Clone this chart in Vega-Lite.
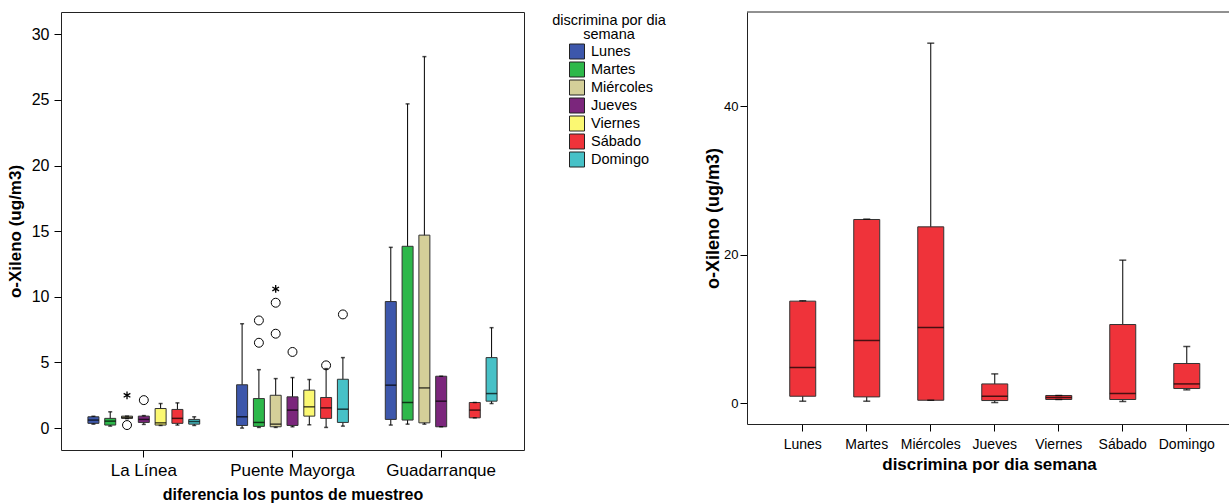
{
  "$schema": "https://vega.github.io/schema/vega-lite/v6.json",
  "padding": {"left": 5, "top": 11, "right": 0, "bottom": 0},
  "spacing": 179,
  "config": {
    "font": "Liberation Sans",
    "view": {"stroke": null},
    "axis": {"domainColor": "#000", "tickColor": "#000", "labelColor": "#000", "titleColor": "#000", "grid": false}
  },
  "datasets": {
    "left": [
      {"site": "La Línea", "day": "Lunes", "lo": 0.3, "q1": 0.36, "med": 0.61, "q3": 0.86, "hi": 0.9},
      {"site": "La Línea", "day": "Martes", "lo": 0.15, "q1": 0.23, "med": 0.53, "q3": 0.74, "hi": 1.24},
      {"site": "La Línea", "day": "Miércoles", "lo": 0.72, "q1": 0.74, "med": 0.8, "q3": 0.91, "hi": 0.91},
      {"site": "La Línea", "day": "Jueves", "lo": 0.28, "q1": 0.43, "med": 0.66, "q3": 0.91, "hi": 0.95},
      {"site": "La Línea", "day": "Viernes", "lo": 0.2, "q1": 0.23, "med": 0.4, "q3": 1.49, "hi": 1.87},
      {"site": "La Línea", "day": "Sábado", "lo": 0.23, "q1": 0.36, "med": 0.74, "q3": 1.42, "hi": 1.92},
      {"site": "La Línea", "day": "Domingo", "lo": 0.2, "q1": 0.3, "med": 0.5, "q3": 0.66, "hi": 0.86},
      {"site": "Puente Mayorga", "day": "Lunes", "lo": 0.0, "q1": 0.2, "med": 0.86, "q3": 3.3, "hi": 7.95},
      {"site": "Puente Mayorga", "day": "Martes", "lo": 0.05, "q1": 0.13, "med": 0.43, "q3": 2.25, "hi": 4.45},
      {"site": "Puente Mayorga", "day": "Miércoles", "lo": 0.05, "q1": 0.1, "med": 0.3, "q3": 2.5, "hi": 3.77},
      {"site": "Puente Mayorga", "day": "Jueves", "lo": 0.1, "q1": 0.2, "med": 1.37, "q3": 2.38, "hi": 3.85},
      {"site": "Puente Mayorga", "day": "Viernes", "lo": 0.25, "q1": 0.91, "med": 1.62, "q3": 2.89, "hi": 3.7},
      {"site": "Puente Mayorga", "day": "Sábado", "lo": 0.05, "q1": 0.74, "med": 1.54, "q3": 2.33, "hi": 4.53},
      {"site": "Puente Mayorga", "day": "Domingo", "lo": 0.15, "q1": 0.43, "med": 1.44, "q3": 3.72, "hi": 5.37},
      {"site": "Guadarranque", "day": "Lunes", "lo": 0.23, "q1": 0.66, "med": 3.27, "q3": 9.64, "hi": 13.77},
      {"site": "Guadarranque", "day": "Martes", "lo": 0.3, "q1": 0.61, "med": 1.95, "q3": 13.85, "hi": 24.7},
      {"site": "Guadarranque", "day": "Miércoles", "lo": 0.3, "q1": 0.4, "med": 3.06, "q3": 14.7, "hi": 28.3},
      {"site": "Guadarranque", "day": "Jueves", "lo": 0.1, "q1": 0.1, "med": 2.05, "q3": 3.95, "hi": 3.95},
      {"site": "Guadarranque", "day": "Sábado", "lo": 0.78, "q1": 0.78, "med": 1.37, "q3": 1.95, "hi": 1.95},
      {"site": "Guadarranque", "day": "Domingo", "lo": 1.87, "q1": 2.05, "med": 2.63, "q3": 5.37, "hi": 7.65}
    ],
    "leftOut": [
      {"site": "La Línea", "day": "Miércoles", "v": 2.5, "kind": "star"},
      {"site": "La Línea", "day": "Miércoles", "v": 0.23, "kind": "circle"},
      {"site": "La Línea", "day": "Jueves", "v": 2.13, "kind": "circle"},
      {"site": "Puente Mayorga", "day": "Martes", "v": 6.5, "kind": "circle"},
      {"site": "Puente Mayorga", "day": "Martes", "v": 8.2, "kind": "circle"},
      {"site": "Puente Mayorga", "day": "Miércoles", "v": 7.19, "kind": "circle"},
      {"site": "Puente Mayorga", "day": "Miércoles", "v": 9.55, "kind": "circle"},
      {"site": "Puente Mayorga", "day": "Miércoles", "v": 10.6, "kind": "star"},
      {"site": "Puente Mayorga", "day": "Jueves", "v": 5.8, "kind": "circle"},
      {"site": "Puente Mayorga", "day": "Sábado", "v": 4.78, "kind": "circle"},
      {"site": "Puente Mayorga", "day": "Domingo", "v": 8.66, "kind": "circle"}
    ],
    "right": [
      {"day": "Lunes", "lo": 0.27, "q1": 0.94, "med": 4.8, "q3": 13.75, "hi": 13.8},
      {"day": "Martes", "lo": 0.27, "q1": 0.85, "med": 8.45, "q3": 24.75, "hi": 24.8},
      {"day": "Miércoles", "lo": 0.4, "q1": 0.4, "med": 10.2, "q3": 23.76, "hi": 48.5},
      {"day": "Jueves", "lo": 0.09, "q1": 0.36, "med": 0.94, "q3": 2.6, "hi": 3.95},
      {"day": "Viernes", "lo": 0.5, "q1": 0.5, "med": 0.77, "q3": 1.04, "hi": 1.04},
      {"day": "Sábado", "lo": 0.23, "q1": 0.5, "med": 1.31, "q3": 10.6, "hi": 19.27},
      {"day": "Domingo", "lo": 1.8, "q1": 1.98, "med": 2.6, "q3": 5.35, "hi": 7.64}
    ]
  },
  "hconcat": [
    {
      "width": 463,
      "height": 438,
      "view": {"stroke": "#222", "strokeWidth": 1},
      "data": {"name": "left"},
      "encoding": {
        "x": {
          "field": "site", "type": "nominal",
          "sort": ["La Línea", "Puente Mayorga", "Guadarranque"],
          "scale": {"paddingInner": 0, "paddingOuter": 0.057},
          "title": "diferencia los puntos de muestreo",
          "axis": {"labelAngle": 0, "domain": false, "tickSize": 7, "labelPadding": 5, "labelFontSize": 17, "titleFontSize": 16, "titleFontWeight": "bold", "titlePadding": 8}
        },
        "xOffset": {
          "field": "day", "type": "nominal",
          "scale": {"domain": ["Lunes", "Martes", "Miércoles", "Jueves", "Viernes", "Sábado", "Domingo"], "paddingInner": 0, "paddingOuter": 0.925}
        }
      },
      "layer": [
        {
          "mark": {"type": "rule", "color": "#000", "strokeWidth": 1},
          "encoding": {
            "y": {
              "field": "lo", "type": "quantitative", "title": "o-Xileno (ug/m3)",
              "scale": {"domain": [-1.67, 31.7], "nice": false, "zero": false},
              "axis": {"values": [0, 5, 10, 15, 20, 25, 30], "domain": false, "tickSize": 7, "labelPadding": 5, "labelFontSize": 16, "titleFontSize": 17, "titleFontWeight": "bold", "titlePadding": 7}
            },
            "y2": {"field": "hi"}
          }
        },
        {
          "mark": {"type": "bar", "size": 11, "stroke": "#333", "strokeWidth": 1},
          "encoding": {
            "y": {"field": "q1", "type": "quantitative", "title": "o-Xileno (ug/m3)"},
            "y2": {"field": "q3"},
            "color": {
              "field": "day", "type": "nominal",
              "scale": {
                "domain": ["Lunes", "Martes", "Miércoles", "Jueves", "Viernes", "Sábado", "Domingo"],
                "range": ["#3D57AB", "#2DB84A", "#D4CF99", "#7B267C", "#FBF872", "#EF333A", "#47C1C7"]
              },
              "legend": {
                "orient": "none", "legendX": 491, "legendY": 2,
                "title": ["discrimina por dia", "semana"],
                "titleFontSize": 14.5, "titleFontWeight": "normal", "titleAnchor": "middle", "titleAlign": "center", "titleLineHeight": 14, "titlePadding": 1, "titleColor": "#000",
                "symbolType": "square", "symbolSize": 225, "symbolStrokeColor": "#222", "symbolStrokeWidth": 1, "symbolOffset": 5,
                "labelFontSize": 14.5, "labelOffset": 6, "labelColor": "#000", "rowPadding": -2.5, "labelLimit": 200
              }
            }
          }
        },
        {
          "mark": {"type": "tick", "size": 11, "thickness": 1.5, "color": "#000", "orient": "horizontal"},
          "encoding": {"y": {"field": "med", "type": "quantitative", "title": "o-Xileno (ug/m3)"}}
        },
        {
          "mark": {"type": "tick", "size": 4, "thickness": 1.5, "color": "#000", "orient": "horizontal"},
          "encoding": {"y": {"field": "lo", "type": "quantitative", "title": "o-Xileno (ug/m3)"}}
        },
        {
          "mark": {"type": "tick", "size": 4, "thickness": 1.5, "color": "#000", "orient": "horizontal"},
          "encoding": {"y": {"field": "hi", "type": "quantitative", "title": "o-Xileno (ug/m3)"}}
        },
        {
          "data": {"name": "leftOut"},
          "transform": [{"filter": "datum.kind == 'circle'"}],
          "mark": {"type": "point", "shape": "circle", "filled": false, "size": 80, "stroke": "#000", "strokeWidth": 1, "opacity": 1},
          "encoding": {"y": {"field": "v", "type": "quantitative", "title": "o-Xileno (ug/m3)"}}
        },
        {
          "data": {"name": "leftOut"},
          "transform": [{"filter": "datum.kind == 'star'"}],
          "mark": {"type": "point", "shape": "M0,-1L0,1M-0.866,-0.5L0.866,0.5M-0.866,0.5L0.866,-0.5", "filled": false, "size": 60, "stroke": "#000", "strokeWidth": 1.3, "opacity": 1},
          "encoding": {"y": {"field": "v", "type": "quantitative", "title": "o-Xileno (ug/m3)"}}
        }
      ]
    },
    {
      "width": 484,
      "height": 412,
      "data": {"name": "right"},
      "layer": [
        {
          "data": {"values": [{"top": 52.7}]},
          "mark": {"type": "rule", "color": "#222", "strokeWidth": 1},
          "encoding": {"y": {"field": "top", "type": "quantitative", "title": "o-Xileno (ug/m3)"}}
        },
        {
          "mark": {"type": "rule", "color": "#000", "strokeWidth": 1},
          "encoding": {
            "x": {
              "field": "day", "type": "nominal",
              "sort": ["Lunes", "Martes", "Miércoles", "Jueves", "Viernes", "Sábado", "Domingo"],
              "scale": {"domain": ["Lunes", "Martes", "Miércoles", "Jueves", "Viernes", "Sábado", "Domingo"], "paddingInner": 0, "paddingOuter": 0.281, "align": 0.66},
              "title": "discrimina por dia semana",
              "axis": {"labelAngle": 0, "domain": true, "domainColor": "#222", "tickSize": 7, "labelPadding": 6, "labelFontSize": 14, "titleFontSize": 17, "titleFontWeight": "bold", "titlePadding": 5}
            },
            "y": {
              "field": "lo", "type": "quantitative", "title": "o-Xileno (ug/m3)",
              "scale": {"domain": [-2.8, 52.7], "nice": false, "zero": false},
              "axis": {"values": [0, 20, 40], "domain": true, "domainColor": "#222", "tickSize": 7, "labelPadding": 2, "labelFontSize": 13, "titleFontSize": 18, "titleFontWeight": "bold", "titlePadding": 1}
            },
            "y2": {"field": "hi"}
          }
        },
        {
          "mark": {"type": "bar", "size": 26, "fill": "#EF333A", "stroke": "#333", "strokeWidth": 1},
          "encoding": {
            "x": {"field": "day", "type": "nominal", "sort": ["Lunes", "Martes", "Miércoles", "Jueves", "Viernes", "Sábado", "Domingo"]},
            "y": {"field": "q1", "type": "quantitative", "title": "o-Xileno (ug/m3)"},
            "y2": {"field": "q3"}
          }
        },
        {
          "mark": {"type": "tick", "size": 26, "thickness": 1.5, "color": "#000", "orient": "horizontal"},
          "encoding": {
            "x": {"field": "day", "type": "nominal", "sort": ["Lunes", "Martes", "Miércoles", "Jueves", "Viernes", "Sábado", "Domingo"]},
            "y": {"field": "med", "type": "quantitative", "title": "o-Xileno (ug/m3)"}
          }
        },
        {
          "mark": {"type": "tick", "size": 7, "thickness": 1.5, "color": "#000", "orient": "horizontal"},
          "encoding": {
            "x": {"field": "day", "type": "nominal", "sort": ["Lunes", "Martes", "Miércoles", "Jueves", "Viernes", "Sábado", "Domingo"]},
            "y": {"field": "lo", "type": "quantitative", "title": "o-Xileno (ug/m3)"}
          }
        },
        {
          "mark": {"type": "tick", "size": 7, "thickness": 1.5, "color": "#000", "orient": "horizontal"},
          "encoding": {
            "x": {"field": "day", "type": "nominal", "sort": ["Lunes", "Martes", "Miércoles", "Jueves", "Viernes", "Sábado", "Domingo"]},
            "y": {"field": "hi", "type": "quantitative", "title": "o-Xileno (ug/m3)"}
          }
        }
      ]
    }
  ]
}
